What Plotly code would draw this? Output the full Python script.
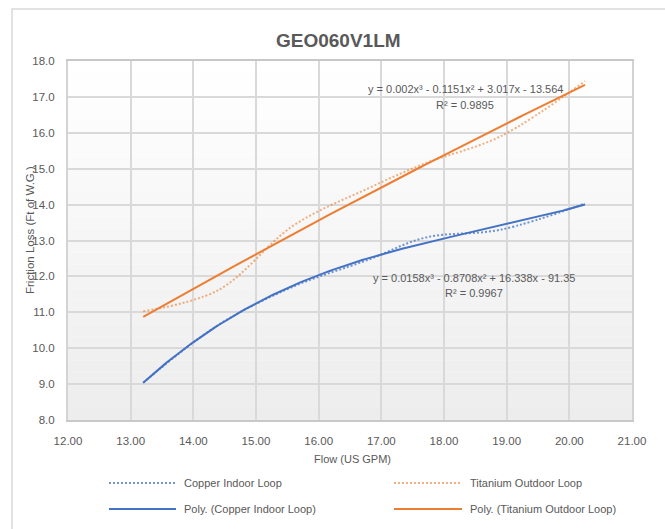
import numpy as np
import plotly.graph_objects as go

# Measured friction loss vs flow for the GEO060V1LM unit
flow_gpm = [13.2, 14.4, 15.6, 16.8, 17.7, 18.9, 20.25]
copper_indoor = [9.04, 10.65, 11.72, 12.47, 13.08, 13.30, 14.03]
titanium_outdoor = [11.03, 11.62, 13.42, 14.46, 15.15, 15.90, 17.44]

copper_eq = "y = 0.0158x³ - 0.8708x² + 16.338x - 91.35"
copper_r2 = "R² = 0.9967"
titanium_eq = "y = 0.002x³ - 0.1151x² + 3.017x - 13.564"
titanium_r2 = "R² = 0.9895"

x_ticks = [12, 13, 14, 15, 16, 17, 18, 19, 20, 21]
y_ticks = [8, 9, 10, 11, 12, 13, 14, 15, 16, 17, 18]

BLUE = "#4472C4"
ORANGE = "#ED7D31"
TEXT = "#595959"
GRID = "#d9d9d9"
FONT = "Liberation Sans Narrow, Arial Narrow, Liberation Sans, Arial, sans-serif"
DOTS = "2px,2px"

# Plot-area geometry in pixels (used for paper-coordinate placement of extras)
W, H = 665, 529
L, R, T, B = 68, 33, 61, 109
PW, PH = W - L - R, H - T - B


def px(x):
    return (x - L) / PW


def py(y):
    return (H - B - y) / PH


def cubic_trend(x, y):
    coeffs = np.polyfit(x, y, 3)
    xs = np.linspace(min(x), max(x), 200)
    return xs, np.polyval(coeffs, xs)


fig = go.Figure()

fig.add_trace(go.Scatter(
    x=flow_gpm, y=copper_indoor, mode="lines", name="Copper Indoor Loop",
    line=dict(color=BLUE, width=2, dash=DOTS, shape="spline", smoothing=1),
    opacity=0.75, showlegend=False))
fig.add_trace(go.Scatter(
    x=flow_gpm, y=titanium_outdoor, mode="lines", name="Titanium Outdoor Loop",
    line=dict(color=ORANGE, width=2, dash=DOTS, shape="spline", smoothing=1),
    opacity=0.6, showlegend=False))

cx, cy = cubic_trend(flow_gpm, copper_indoor)
tx, ty = cubic_trend(flow_gpm, titanium_outdoor)
fig.add_trace(go.Scatter(x=cx, y=cy, mode="lines", name="Poly. (Copper Indoor Loop)",
                         line=dict(color=BLUE, width=2), showlegend=False))
fig.add_trace(go.Scatter(x=tx, y=ty, mode="lines", name="Poly. (Titanium Outdoor Loop)",
                         line=dict(color=ORANGE, width=2), showlegend=False))

shapes = []
# soft vertical gradient behind the plot area
n_bands = 30
for i in range(n_bands):
    f = i / (n_bands - 1)
    g = int(round(255 - f * 18))
    y0 = 18 - 10 * i / n_bands
    y1 = 18 - 10 * (i + 1) / n_bands
    shapes.append(dict(type="rect", xref="x", yref="y", x0=12, x1=21, y0=y1, y1=y0,
                       fillcolor=f"rgb({g},{g},{g})", line=dict(width=0), layer="below"))

# outer chart frame
shapes.append(dict(type="rect", xref="paper", yref="paper",
                   x0=px(12), x1=px(700), y0=py(560), y1=py(9),
                   line=dict(color="#d9d9d9", width=1.5), fillcolor="rgba(0,0,0,0)", layer="below"))

# legend samples
legend_items = [
    ("Copper Indoor Loop", BLUE, DOTS, 0.75, 109, 176, 483),
    ("Titanium Outdoor Loop", ORANGE, DOTS, 0.6, 394, 462, 483),
    ("Poly. (Copper Indoor Loop)", BLUE, "solid", 1, 109, 176, 509),
    ("Poly. (Titanium Outdoor Loop)", ORANGE, "solid", 1, 394, 462, 509),
]
annotations = []
for label, color, dash, op, x0, x1, yy in legend_items:
    shapes.append(dict(type="line", xref="paper", yref="paper",
                       x0=px(x0), x1=px(x1), y0=py(yy), y1=py(yy),
                       line=dict(color=color, width=2, dash=dash), opacity=op))
    annotations.append(dict(xref="paper", yref="paper", x=px(x1 + 6), y=py(yy),
                            text=label, showarrow=False, xanchor="left", yanchor="middle",
                            font=dict(family=FONT, size=11, color=TEXT)))

# trendline equations
for text, xc, yc in [(titanium_eq, 465, 89), (titanium_r2, 465, 105),
                     (copper_eq, 474, 278), (copper_r2, 474, 293)]:
    annotations.append(dict(xref="paper", yref="paper", x=px(xc), y=py(yc), text=text,
                            showarrow=False, xanchor="center", yanchor="middle",
                            font=dict(family=FONT, size=11, color=TEXT)))

# title and axis titles
annotations.append(dict(xref="paper", yref="paper", x=px(338), y=py(41), text="<b>GEO060V1LM</b>",
                        showarrow=False, xanchor="center", yanchor="middle",
                        font=dict(family=FONT, size=19, color=TEXT)))
annotations.append(dict(xref="paper", yref="paper", x=px(352), y=py(459), text="Flow (US GPM)",
                        showarrow=False, xanchor="center", yanchor="middle",
                        font=dict(family=FONT, size=11, color=TEXT)))
annotations.append(dict(xref="paper", yref="paper", x=px(30), y=py(230),
                        text="Friction Loss (Ft of W.G.)", textangle=-90,
                        showarrow=False, xanchor="center", yanchor="middle",
                        font=dict(family=FONT, size=11.5, color=TEXT)))

fig.update_layout(
    width=W, height=H,
    margin=dict(l=L, r=R, t=T, b=B),
    paper_bgcolor="white",
    plot_bgcolor="white",
    font=dict(family=FONT, size=11, color=TEXT),
    shapes=shapes,
    annotations=annotations,
    showlegend=False,
)
fig.update_xaxes(range=[12, 21], tickvals=x_ticks, ticktext=[f"{v:.2f}" for v in x_ticks],
                 showgrid=True, gridcolor=GRID, gridwidth=2,
                 showline=True, linecolor="#c8c8c8", linewidth=2, mirror=True,
                 zeroline=False, ticks="", ticklabelstandoff=9,
                 tickfont=dict(family=FONT, size=11.5, color=TEXT))
fig.update_yaxes(range=[8, 18], tickvals=y_ticks, ticktext=[f"{v:.1f}" for v in y_ticks],
                 showgrid=True, gridcolor=GRID, gridwidth=2,
                 showline=True, linecolor="#d4d4d4", linewidth=2, mirror=True,
                 zeroline=False, ticks="", ticklabelstandoff=9,
                 tickfont=dict(family=FONT, size=11.5, color=TEXT))

fig.write_html("out.html")
